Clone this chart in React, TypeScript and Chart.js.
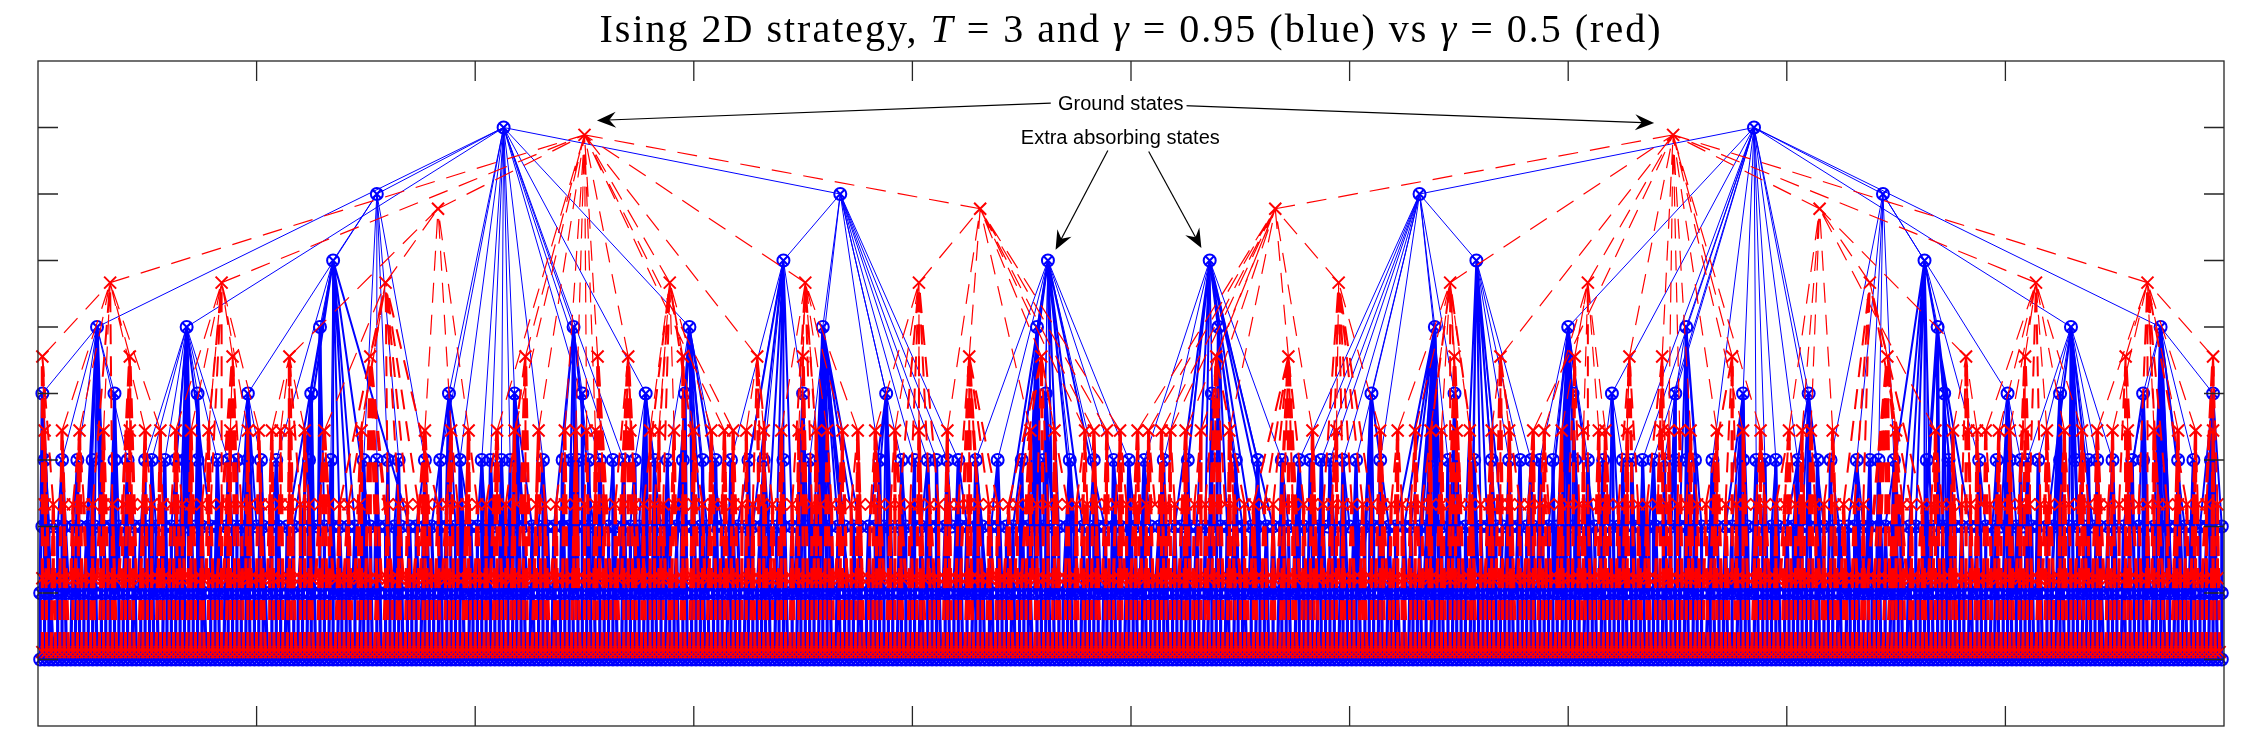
import React, { useEffect, useRef } from "react";
import { Chart, registerables } from "chart.js";

Chart.register(...registerables);

const W = 2262;
const H = 746;

// ---- Levels (y values) ----
const blueLevels = [0.9, 0.8, 0.7, 0.6, 0.5, 0.4, 0.3, 0.2, 0.1];
const redLevels = [0.8889, 0.7778, 0.6667, 0.5556, 0.4444, 0.3333, 0.2222, 0.1111];

// ---- Blue tree (gamma = 0.95), node x positions in thousandths, one array per level ----
const blueX9 = [213, 785];
const blueX8 = [155, 367, 632, 844];
const blueX7 = [135, 341, 462, 536, 658, 863];
const blueX6 = [27, 68, 129, 245, 298, 359, 457, 540, 639, 700, 754, 869, 930, 971];
const blueX5 = [2, 35, 73, 96, 125, 188, 218, 249, 278, 296, 350, 388, 461, 537, 610, 648, 702, 720, 749, 780, 810, 872, 901, 925, 963, 995];
const blueX4 = [3, 11, 18, 25, 35, 41, 49, 52, 58, 63, 67, 73, 82, 87, 91, 96, 102, 109, 124, 134, 149, 155, 160, 165, 177, 184, 193, 203, 207, 212, 216, 231, 240, 244, 247, 252, 257, 263, 268, 273, 282, 288, 295, 304, 310, 317, 325, 332, 341, 353, 358, 385, 395, 401, 407, 411, 416, 421, 429, 439, 450, 460, 472, 483, 492, 499, 506, 515, 526, 538, 548, 558, 569, 577, 582, 587, 591, 597, 603, 614, 639, 645, 657, 665, 673, 678, 683, 687, 693, 703, 709, 716, 725, 729, 734, 739, 744, 749, 754, 758, 766, 780, 786, 790, 795, 805, 814, 820, 832, 838, 842, 849, 864, 874, 888, 896, 902, 907, 910, 915, 925, 932, 938, 942, 949, 958, 963, 971, 979, 986, 994];
const blueX3 = [2, 5, 9, 12, 16, 19, 23, 26, 30, 33, 37, 40, 44, 47, 51, 54, 58, 61, 65, 68, 72, 75, 79, 82, 86, 89, 93, 96, 100, 103, 107, 110, 114, 117, 121, 124, 128, 131, 135, 138, 142, 145, 149, 152, 156, 159, 163, 166, 170, 173, 177, 180, 184, 187, 191, 194, 198, 201, 205, 208, 212, 215, 219, 222, 226, 229, 233, 236, 240, 243, 247, 250, 254, 257, 261, 264, 268, 271, 275, 278, 282, 285, 289, 292, 296, 299, 303, 306, 310, 313, 317, 320, 324, 327, 331, 334, 338, 341, 345, 348, 352, 355, 359, 362, 366, 369, 373, 376, 380, 383, 387, 390, 394, 397, 401, 404, 408, 411, 415, 418, 422, 425, 429, 432, 436, 439, 443, 446, 450, 453, 457, 460, 464, 467, 471, 474, 478, 481, 485, 488, 492, 495, 499, 502, 506, 509, 513, 516, 520, 523, 527, 530, 534, 537, 541, 544, 548, 551, 555, 558, 562, 565, 569, 572, 576, 579, 583, 586, 590, 593, 597, 600, 604, 607, 611, 614, 618, 621, 625, 628, 632, 635, 639, 642, 646, 649, 653, 656, 660, 663, 667, 670, 674, 677, 681, 684, 688, 691, 695, 698, 702, 705, 709, 712, 716, 719, 723, 726, 730, 733, 737, 740, 744, 747, 751, 754, 758, 761, 765, 768, 772, 775, 779, 782, 786, 789, 793, 796, 800, 803, 807, 810, 814, 817, 821, 824, 828, 831, 835, 838, 842, 845, 849, 852, 856, 859, 863, 866, 870, 873, 877, 880, 884, 887, 891, 894, 898, 901, 905, 908, 912, 915, 919, 922, 926, 929, 933, 936, 940, 943, 947, 950, 954, 957, 961, 964, 968, 971, 975, 978, 982, 985, 989, 992, 996, 999];
const blueX2 = [1, 4, 6, 9, 11, 14, 16, 19, 21, 24, 26, 29, 31, 34, 36, 39, 41, 44, 46, 49, 51, 54, 56, 59, 61, 64, 66, 69, 71, 74, 76, 79, 81, 84, 86, 89, 91, 94, 96, 99, 101, 104, 106, 109, 111, 114, 116, 119, 121, 124, 126, 129, 131, 134, 136, 139, 141, 144, 146, 149, 151, 154, 156, 159, 161, 164, 166, 169, 171, 174, 176, 179, 181, 184, 186, 189, 191, 194, 196, 199, 201, 204, 206, 209, 211, 214, 216, 219, 221, 224, 226, 229, 231, 234, 236, 239, 241, 244, 246, 249, 251, 254, 256, 259, 261, 264, 266, 269, 271, 274, 276, 279, 281, 284, 286, 289, 291, 294, 296, 299, 301, 304, 306, 309, 311, 314, 316, 319, 321, 324, 326, 329, 331, 334, 336, 339, 341, 344, 346, 349, 351, 354, 356, 359, 361, 364, 366, 369, 371, 374, 376, 379, 381, 384, 386, 389, 391, 394, 396, 399, 401, 404, 406, 409, 411, 414, 416, 419, 421, 424, 426, 429, 431, 434, 436, 439, 441, 444, 446, 449, 451, 454, 456, 459, 461, 464, 466, 469, 471, 474, 476, 479, 481, 484, 486, 489, 491, 494, 496, 499, 501, 504, 506, 509, 511, 514, 516, 519, 521, 524, 526, 529, 531, 534, 536, 539, 541, 544, 546, 549, 551, 554, 556, 559, 561, 564, 566, 569, 571, 574, 576, 579, 581, 584, 586, 589, 591, 594, 596, 599, 601, 604, 606, 609, 611, 614, 616, 619, 621, 624, 626, 629, 631, 634, 636, 639, 641, 644, 646, 649, 651, 654, 656, 659, 661, 664, 666, 669, 671, 674, 676, 679, 681, 684, 686, 689, 691, 694, 696, 699, 701, 704, 706, 709, 711, 714, 716, 719, 721, 724, 726, 729, 731, 734, 736, 739, 741, 744, 746, 749, 751, 754, 756, 759, 761, 764, 766, 769, 771, 774, 776, 779, 781, 784, 786, 789, 791, 794, 796, 799, 801, 804, 806, 809, 811, 814, 816, 819, 821, 824, 826, 829, 831, 834, 836, 839, 841, 844, 846, 849, 851, 854, 856, 859, 861, 864, 866, 869, 871, 874, 876, 879, 881, 884, 886, 889, 891, 894, 896, 899, 901, 904, 906, 909, 911, 914, 916, 919, 921, 924, 926, 929, 931, 934, 936, 939, 941, 944, 946, 949, 951, 954, 956, 959, 961, 964, 966, 969, 971, 974, 976, 979, 981, 984, 986, 989, 991, 994, 996, 999];
const blueX1 = [1, 3, 5, 7, 9, 11, 13, 15, 17, 19, 21, 23, 25, 27, 29, 31, 33, 35, 37, 39, 41, 43, 45, 47, 49, 51, 53, 55, 57, 59, 61, 63, 65, 67, 69, 71, 73, 75, 77, 79, 81, 83, 85, 87, 89, 91, 93, 95, 97, 99, 101, 103, 105, 107, 109, 111, 113, 115, 117, 119, 121, 123, 125, 127, 129, 131, 133, 135, 137, 139, 141, 143, 145, 147, 149, 151, 153, 155, 157, 159, 161, 163, 165, 167, 169, 171, 173, 175, 177, 179, 181, 183, 185, 187, 189, 191, 193, 195, 197, 199, 201, 203, 205, 207, 209, 211, 213, 215, 217, 219, 221, 223, 225, 227, 229, 231, 233, 235, 237, 239, 241, 243, 245, 247, 249, 251, 253, 255, 257, 259, 261, 263, 265, 267, 269, 271, 273, 275, 277, 279, 281, 283, 285, 287, 289, 291, 293, 295, 297, 299, 301, 303, 305, 307, 309, 311, 313, 315, 317, 319, 321, 323, 325, 327, 329, 331, 333, 335, 337, 339, 341, 343, 345, 347, 349, 351, 353, 355, 357, 359, 361, 363, 365, 367, 369, 371, 373, 375, 377, 379, 381, 383, 385, 387, 389, 391, 393, 395, 397, 399, 401, 403, 405, 407, 409, 411, 413, 415, 417, 419, 421, 423, 425, 427, 429, 431, 433, 435, 437, 439, 441, 443, 445, 447, 449, 451, 453, 455, 457, 459, 461, 463, 465, 467, 469, 471, 473, 475, 477, 479, 481, 483, 485, 487, 489, 491, 493, 495, 497, 499, 501, 503, 505, 507, 509, 511, 513, 515, 517, 519, 521, 523, 525, 527, 529, 531, 533, 535, 537, 539, 541, 543, 545, 547, 549, 551, 553, 555, 557, 559, 561, 563, 565, 567, 569, 571, 573, 575, 577, 579, 581, 583, 585, 587, 589, 591, 593, 595, 597, 599, 601, 603, 605, 607, 609, 611, 613, 615, 617, 619, 621, 623, 625, 627, 629, 631, 633, 635, 637, 639, 641, 643, 645, 647, 649, 651, 653, 655, 657, 659, 661, 663, 665, 667, 669, 671, 673, 675, 677, 679, 681, 683, 685, 687, 689, 691, 693, 695, 697, 699, 701, 703, 705, 707, 709, 711, 713, 715, 717, 719, 721, 723, 725, 727, 729, 731, 733, 735, 737, 739, 741, 743, 745, 747, 749, 751, 753, 755, 757, 759, 761, 763, 765, 767, 769, 771, 773, 775, 777, 779, 781, 783, 785, 787, 789, 791, 793, 795, 797, 799, 801, 803, 805, 807, 809, 811, 813, 815, 817, 819, 821, 823, 825, 827, 829, 831, 833, 835, 837, 839, 841, 843, 845, 847, 849, 851, 853, 855, 857, 859, 861, 863, 865, 867, 869, 871, 873, 875, 877, 879, 881, 883, 885, 887, 889, 891, 893, 895, 897, 899, 901, 903, 905, 907, 909, 911, 913, 915, 917, 919, 921, 923, 925, 927, 929, 931, 933, 935, 937, 939, 941, 943, 945, 947, 949, 951, 953, 955, 957, 959, 961, 963, 965, 967, 969, 971, 973, 975, 977, 979, 981, 983, 985, 987, 989, 991, 993, 995, 997, 999];
// blue nodes without a parent (ground states and extra absorbing states): [x thousandths, level]
const blueRoots = [[213, 0.9], [785, 0.9], [462, 0.7], [536, 0.7]];

// ---- Red tree (gamma = 0.5) ----
const redX8 = [250, 748];
const redX7 = [183, 431, 566, 815];
const redX6 = [33, 84, 159, 289, 351, 403, 595, 646, 709, 838, 914, 965];
const redX5 = [2, 42, 89, 115, 152, 223, 256, 270, 295, 329, 350, 426, 459, 539, 572, 648, 669, 703, 728, 743, 775, 846, 882, 909, 955, 995];
const redX4 = [3, 11, 19, 30, 42, 49, 56, 63, 70, 78, 88, 96, 101, 107, 111, 115, 122, 131, 148, 177, 189, 197, 210, 218, 229, 241, 246, 251, 255, 271, 280, 284, 291, 300, 308, 314, 318, 324, 332, 340, 348, 356, 361, 368, 375, 383, 392, 403, 416, 454, 465, 479, 483, 489, 495, 503, 508, 514, 518, 525, 532, 545, 583, 594, 614, 622, 630, 637, 642, 649, 655, 665, 673, 684, 689, 697, 707, 714, 717, 727, 743, 746, 751, 756, 768, 780, 788, 801, 807, 811, 821, 850, 868, 876, 883, 887, 891, 897, 902, 909, 919, 927, 935, 942, 949, 956, 968, 979, 987, 995];
const redX3 = [3, 7, 12, 16, 21, 25, 30, 34, 39, 43, 48, 52, 57, 61, 66, 70, 75, 79, 84, 88, 93, 97, 102, 106, 111, 115, 120, 124, 129, 133, 138, 142, 147, 160, 165, 169, 174, 178, 183, 187, 192, 196, 201, 205, 210, 214, 219, 223, 228, 232, 237, 241, 246, 250, 255, 259, 264, 268, 273, 277, 282, 286, 291, 295, 300, 304, 309, 313, 318, 322, 327, 331, 336, 340, 345, 349, 354, 358, 363, 367, 372, 376, 381, 385, 390, 394, 399, 403, 408, 412, 417, 421, 426, 430, 435, 439, 444, 448, 453, 457, 462, 466, 471, 475, 480, 484, 489, 493, 498, 502, 507, 511, 516, 520, 525, 529, 534, 538, 543, 547, 552, 556, 561, 565, 570, 574, 579, 583, 588, 592, 597, 601, 606, 610, 615, 619, 624, 628, 633, 637, 642, 646, 651, 655, 660, 664, 669, 673, 678, 682, 687, 691, 696, 700, 705, 709, 714, 718, 723, 727, 732, 736, 741, 745, 750, 754, 759, 763, 768, 772, 777, 781, 786, 790, 795, 799, 804, 808, 813, 817, 822, 826, 831, 835, 853, 857, 862, 866, 871, 875, 880, 884, 889, 893, 898, 902, 907, 911, 916, 920, 925, 929, 934, 938, 943, 947, 952, 956, 961, 965, 970, 974, 979, 983, 988, 992, 997];
const redX2 = [2, 5, 7, 10, 12, 15, 17, 20, 22, 25, 27, 30, 32, 35, 37, 40, 42, 45, 47, 50, 52, 55, 57, 60, 62, 65, 67, 70, 72, 75, 77, 80, 82, 85, 87, 90, 92, 95, 97, 100, 102, 105, 107, 110, 112, 115, 117, 120, 122, 125, 127, 130, 132, 135, 137, 140, 142, 145, 147, 150, 152, 155, 157, 160, 162, 165, 167, 170, 172, 175, 177, 180, 182, 185, 187, 190, 192, 195, 197, 200, 202, 205, 207, 210, 212, 215, 217, 220, 222, 225, 227, 230, 232, 235, 237, 240, 242, 245, 247, 250, 252, 255, 257, 260, 262, 265, 267, 270, 272, 275, 277, 280, 282, 285, 287, 290, 292, 295, 297, 300, 302, 305, 307, 310, 312, 315, 317, 320, 322, 325, 327, 330, 332, 335, 337, 340, 342, 345, 347, 350, 352, 355, 357, 360, 362, 365, 367, 370, 372, 375, 377, 380, 382, 385, 387, 390, 392, 395, 397, 400, 402, 405, 407, 410, 412, 415, 417, 420, 422, 425, 427, 430, 432, 435, 437, 440, 442, 445, 447, 450, 452, 455, 457, 460, 462, 465, 467, 470, 472, 475, 477, 480, 482, 485, 487, 490, 492, 495, 497, 500, 502, 505, 507, 510, 512, 515, 517, 520, 522, 525, 527, 530, 532, 535, 537, 540, 542, 545, 547, 550, 552, 555, 557, 560, 562, 565, 567, 570, 572, 575, 577, 580, 582, 585, 587, 590, 592, 595, 597, 600, 602, 605, 607, 610, 612, 615, 617, 620, 622, 625, 627, 630, 632, 635, 637, 640, 642, 645, 647, 650, 652, 655, 657, 660, 662, 665, 667, 670, 672, 675, 677, 680, 682, 685, 687, 690, 692, 695, 697, 700, 702, 705, 707, 710, 712, 715, 717, 720, 722, 725, 727, 730, 732, 735, 737, 740, 742, 745, 747, 750, 752, 755, 757, 760, 762, 765, 767, 770, 772, 775, 777, 780, 782, 785, 787, 790, 792, 795, 797, 800, 802, 805, 807, 810, 812, 815, 817, 820, 822, 825, 827, 830, 832, 835, 837, 840, 842, 845, 847, 850, 852, 855, 857, 860, 862, 865, 867, 870, 872, 875, 877, 880, 882, 885, 887, 890, 892, 895, 897, 900, 902, 905, 907, 910, 912, 915, 917, 920, 922, 925, 927, 930, 932, 935, 937, 940, 942, 945, 947, 950, 952, 955, 957, 960, 962, 965, 967, 970, 972, 975, 977, 980, 982, 985, 987, 990, 992, 995, 997];
const redX1 = [2, 4, 6, 8, 10, 12, 14, 16, 18, 20, 22, 24, 26, 28, 30, 32, 34, 36, 38, 40, 42, 44, 46, 48, 50, 52, 54, 56, 58, 60, 62, 64, 66, 68, 70, 72, 74, 76, 78, 80, 82, 84, 86, 88, 90, 92, 94, 96, 98, 100, 102, 104, 106, 108, 110, 112, 114, 116, 118, 120, 122, 124, 126, 128, 130, 132, 134, 136, 138, 140, 142, 144, 146, 148, 150, 152, 154, 156, 158, 160, 162, 164, 166, 168, 170, 172, 174, 176, 178, 180, 182, 184, 186, 188, 190, 192, 194, 196, 198, 200, 202, 204, 206, 208, 210, 212, 214, 216, 218, 220, 222, 224, 226, 228, 230, 232, 234, 236, 238, 240, 242, 244, 246, 248, 250, 252, 254, 256, 258, 260, 262, 264, 266, 268, 270, 272, 274, 276, 278, 280, 282, 284, 286, 288, 290, 292, 294, 296, 298, 300, 302, 304, 306, 308, 310, 312, 314, 316, 318, 320, 322, 324, 326, 328, 330, 332, 334, 336, 338, 340, 342, 344, 346, 348, 350, 352, 354, 356, 358, 360, 362, 364, 366, 368, 370, 372, 374, 376, 378, 380, 382, 384, 386, 388, 390, 392, 394, 396, 398, 400, 402, 404, 406, 408, 410, 412, 414, 416, 418, 420, 422, 424, 426, 428, 430, 432, 434, 436, 438, 440, 442, 444, 446, 448, 450, 452, 454, 456, 458, 460, 462, 464, 466, 468, 470, 472, 474, 476, 478, 480, 482, 484, 486, 488, 490, 492, 494, 496, 498, 500, 502, 504, 506, 508, 510, 512, 514, 516, 518, 520, 522, 524, 526, 528, 530, 532, 534, 536, 538, 540, 542, 544, 546, 548, 550, 552, 554, 556, 558, 560, 562, 564, 566, 568, 570, 572, 574, 576, 578, 580, 582, 584, 586, 588, 590, 592, 594, 596, 598, 600, 602, 604, 606, 608, 610, 612, 614, 616, 618, 620, 622, 624, 626, 628, 630, 632, 634, 636, 638, 640, 642, 644, 646, 648, 650, 652, 654, 656, 658, 660, 662, 664, 666, 668, 670, 672, 674, 676, 678, 680, 682, 684, 686, 688, 690, 692, 694, 696, 698, 700, 702, 704, 706, 708, 710, 712, 714, 716, 718, 720, 722, 724, 726, 728, 730, 732, 734, 736, 738, 740, 742, 744, 746, 748, 750, 752, 754, 756, 758, 760, 762, 764, 766, 768, 770, 772, 774, 776, 778, 780, 782, 784, 786, 788, 790, 792, 794, 796, 798, 800, 802, 804, 806, 808, 810, 812, 814, 816, 818, 820, 822, 824, 826, 828, 830, 832, 834, 836, 838, 840, 842, 844, 846, 848, 850, 852, 854, 856, 858, 860, 862, 864, 866, 868, 870, 872, 874, 876, 878, 880, 882, 884, 886, 888, 890, 892, 894, 896, 898, 900, 902, 904, 906, 908, 910, 912, 914, 916, 918, 920, 922, 924, 926, 928, 930, 932, 934, 936, 938, 940, 942, 944, 946, 948, 950, 952, 954, 956, 958, 960, 962, 964, 966, 968, 970, 972, 974, 976, 978, 980, 982, 984, 986, 988, 990, 992, 994, 996, 998];
const redRoots = [[250, 0.8889], [748, 0.8889]];

// ---- Axis ticks and annotations ----
const tickValues = [0.1, 0.2, 0.3, 0.4, 0.5, 0.6, 0.7, 0.8, 0.9];
const groundLabel = { text: "Ground states", x: 0.4953, y: 0.9343 };
const groundArrows = [
  [0.4633, 0.9368, 0.2557, 0.9106],
  [0.5241, 0.9328, 0.7393, 0.9067],
];
const extraLabel = { text: "Extra absorbing states", x: 0.4951, y: 0.8831 };
const extraArrows = [
  [0.4894, 0.8655, 0.4655, 0.7161],
  [0.5081, 0.864, 0.5322, 0.7187],
];
// nodes in the three lowest rows only link to parents at most this far above
const maxLowSpan = 0.4;
const lowRowTop = 0.35;
// edges into the two crowded bottom rows are drawn heavier
const bandBottom = 0.25;

type Pt = { x: number; y: number | null };

function buildTree(rows: number[][], levels: number[], roots: number[][]) {
  const nodes: { x: number; y: number }[] = [];
  rows.forEach((row, i) => row.forEach((v) => nodes.push({ x: v / 1000, y: levels[i] })));
  const isRoot = nodes.map((n) =>
    roots.some((r) => Math.abs(r[0] / 1000 - n.x) < 1e-9 && Math.abs(r[1] - n.y) < 1e-9)
  );
  const upper: Pt[] = [];
  const mid: Pt[] = [];
  const low: Pt[] = [];
  nodes.forEach((n, i) => {
    if (isRoot[i]) return;
    let best = -1;
    let bc = Infinity;
    for (let j = 0; j < nodes.length; j++) {
      const p = nodes[j];
      const dy = p.y - n.y;
      if (dy <= 1e-6) continue;
      if (n.y < lowRowTop && dy > maxLowSpan + 1e-6) continue;
      const c = Math.abs(p.x - n.x) / Math.pow(dy, 1.5);
      if (c < bc) {
        bc = c;
        best = j;
      }
    }
    if (best >= 0) {
      const target = n.y < bandBottom ? low : n.y < lowRowTop ? mid : upper;
      // drawn from the child up to its parent
      target.push({ x: n.x, y: n.y }, { x: nodes[best].x, y: nodes[best].y }, { x: n.x, y: null });
    }
  });
  return { nodes, upper, mid, low };
}

function drawArrow(ctx: CanvasRenderingContext2D, x0: number, y0: number, x1: number, y1: number) {
  const ang = Math.atan2(y1 - y0, x1 - x0);
  const L = 19;
  const Wd = 8;
  ctx.beginPath();
  ctx.moveTo(x0, y0);
  ctx.lineTo(x1 - Math.cos(ang) * L * 0.6, y1 - Math.sin(ang) * L * 0.6);
  ctx.stroke();
  const bx = x1 - Math.cos(ang) * L;
  const by = y1 - Math.sin(ang) * L;
  const nx = -Math.sin(ang);
  const ny = Math.cos(ang);
  ctx.beginPath();
  ctx.moveTo(x1, y1);
  ctx.lineTo(bx + nx * Wd, by + ny * Wd);
  ctx.lineTo(x1 - Math.cos(ang) * L * 0.65, y1 - Math.sin(ang) * L * 0.65);
  ctx.lineTo(bx - nx * Wd, by - ny * Wd);
  ctx.closePath();
  ctx.fill();
}

const framePlugin = {
  id: "frame",
  afterDraw(chart: any) {
    const { ctx, chartArea, scales } = chart;
    const { left, right, top, bottom } = chartArea;
    ctx.save();
    ctx.strokeStyle = "#262626";
    ctx.lineWidth = 1.3;
    ctx.strokeRect(left, top, right - left, bottom - top);
    const tl = 20;
    ctx.beginPath();
    tickValues.forEach((v) => {
      const px = scales.x.getPixelForValue(v);
      ctx.moveTo(px, top);
      ctx.lineTo(px, top + tl);
      ctx.moveTo(px, bottom);
      ctx.lineTo(px, bottom - tl);
      const py = scales.y.getPixelForValue(v);
      ctx.moveTo(left, py);
      ctx.lineTo(left + tl, py);
      ctx.moveTo(right, py);
      ctx.lineTo(right - tl, py);
    });
    ctx.stroke();

    // annotations
    ctx.fillStyle = "#000";
    ctx.strokeStyle = "#000";
    ctx.lineWidth = 1.2;
    [...groundArrows, ...extraArrows].forEach((a) => {
      drawArrow(
        ctx,
        scales.x.getPixelForValue(a[0]),
        scales.y.getPixelForValue(a[1]),
        scales.x.getPixelForValue(a[2]),
        scales.y.getPixelForValue(a[3])
      );
    });
    ctx.font = "20px 'Liberation Sans', Arial, sans-serif";
    ctx.textAlign = "center";
    ctx.textBaseline = "middle";
    [groundLabel, extraLabel].forEach((l) => {
      const px = scales.x.getPixelForValue(l.x);
      const py = scales.y.getPixelForValue(l.y);
      const w = ctx.measureText(l.text).width;
      ctx.fillStyle = "#fff";
      ctx.fillRect(px - w / 2 - 3, py - 11, w + 6, 22);
      ctx.fillStyle = "#000";
      ctx.fillText(l.text, px, py);
    });
    ctx.restore();
  },
};

function edgeSet(label: string, data: Pt[], color: string, width: number, dash: number[], order: number) {
  return {
    label,
    data: data as any,
    borderColor: color,
    borderWidth: width,
    borderDash: dash,
    pointRadius: 0,
    spanGaps: false,
    fill: false,
    order,
  };
}

export default function App() {
  const ref = useRef<HTMLCanvasElement | null>(null);
  useEffect(() => {
    if (!ref.current) return;
    const blue = buildTree(
      [blueX9, blueX8, blueX7, blueX6, blueX5, blueX4, blueX3, blueX2, blueX1],
      blueLevels,
      blueRoots
    );
    const red = buildTree(
      [redX8, redX7, redX6, redX5, redX4, redX3, redX2, redX1],
      redLevels,
      redRoots
    );
    const redDash = [20, 12];
    const chart = new Chart(ref.current, {
      type: "line",
      data: {
        datasets: [
          edgeSet("red edges", red.upper, "#ff0000", 1.2, redDash, 0),
          edgeSet("red edges mid", red.mid, "#ff0000", 2, redDash, 0),
          edgeSet("red edges low", red.low, "#ff0000", 3.2, redDash, 0),
          {
            label: "red nodes",
            data: red.nodes as any,
            showLine: false,
            pointStyle: "crossRot",
            pointRadius: 8.5,
            pointBorderColor: "#ff0000",
            pointBackgroundColor: "#ff0000",
            pointBorderWidth: 2,
            clip: false as any,
            order: 1,
          },
          edgeSet("blue edges", blue.upper, "#0000ff", 1, [], 2),
          edgeSet("blue edges mid", blue.mid, "#0000ff", 2, [], 2),
          edgeSet("blue edges low", blue.low, "#0000ff", 3.2, [], 2),
          {
            label: "blue x",
            data: blue.nodes as any,
            showLine: false,
            pointStyle: "crossRot",
            pointRadius: 6,
            pointBorderColor: "#0000ff",
            pointBackgroundColor: "#0000ff",
            pointBorderWidth: 2,
            clip: false as any,
            order: 3,
          },
          {
            label: "blue o",
            data: blue.nodes as any,
            showLine: false,
            pointStyle: "circle",
            pointRadius: 6,
            pointBorderColor: "#0000ff",
            pointBackgroundColor: "rgba(0,0,0,0)",
            pointBorderWidth: 2,
            clip: false as any,
            order: 4,
          },
        ],
      },
      options: {
        animation: false,
        responsive: false,
        devicePixelRatio: 1,
        events: [],
        layout: { padding: { left: 38, top: 61, right: 38, bottom: 20 } },
        elements: { line: { tension: 0 } },
        scales: {
          x: { type: "linear", min: 0, max: 1, display: false },
          y: { type: "linear", min: 0, max: 1, display: false },
        },
        plugins: { legend: { display: false }, tooltip: { enabled: false } },
      },
      plugins: [framePlugin],
    });
    return () => chart.destroy();
  }, []);

  return (
    <div style={{ position: "absolute", left: 0, top: 0, width: W, height: H, background: "#fff", overflow: "hidden" }}>
      <canvas ref={ref} width={W} height={H} style={{ position: "absolute", left: 0, top: 0, width: W, height: H }} />
      <div
        style={{
          position: "absolute",
          left: 0,
          top: 9,
          width: W,
          textAlign: "center",
          fontFamily: "'Liberation Serif', 'Times New Roman', serif",
          fontSize: 40,
          letterSpacing: "2px",
          lineHeight: "40px",
          color: "#000",
          whiteSpace: "pre",
        }}
      >
        {"Ising 2D strategy, "}
        <i>T</i>
        {" = 3 and "}
        <i>γ</i>
        {" = 0.95 (blue) vs "}
        <i>γ</i>
        {" = 0.5 (red)"}
      </div>
    </div>
  );
}
